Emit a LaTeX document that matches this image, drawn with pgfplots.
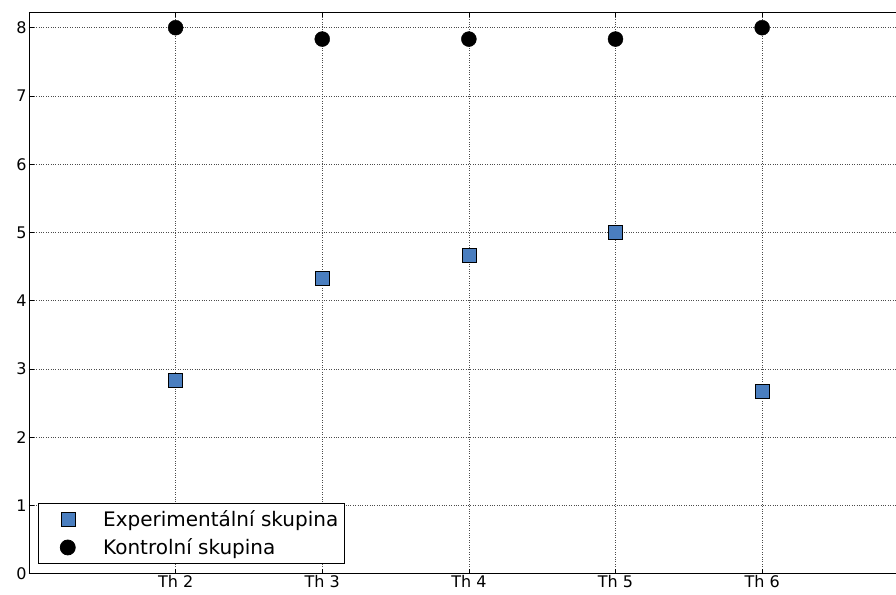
\documentclass[border=0pt]{standalone}
\usepackage{pgfplots}
\pgfplotsset{compat=1.18}
\usepackage{fontspec}
\setmainfont{DejaVu Sans}
\usetikzlibrary{calc}
\definecolor{expblue}{HTML}{4A7EBF}
\begin{document}
\begin{tikzpicture}
\begin{axis}[
  scale only axis,
  width=867pt, height=562pt,
  xmin=1, xmax=6.91, ymin=0, ymax=8.23,
  axis x line=box, axis y line=left,
  axis line style={-, black, line width=0.9pt},
  xtick={2,3,4,5,6},
  xticklabels={Th 2,Th 3,Th 4,Th 5,Th 6},
  ytick={0,1,2,3,4,5,6,7,8},
  tick align=inside,
  major tick length=5pt,
  tick style={black, line width=0.6pt},
  /pgf/number format/assume math mode=true,
  ticklabel style={font=\fontsize{16}{18}\selectfont},
  xticklabel style={yshift=2pt},
  yticklabel style={xshift=1pt},
  grid=major,
  grid style={black!70, dotted, line width=0.5pt},
  axis on top,
  clip=false,
  legend style={at={(0.0104,0.018)}, anchor=south west, draw=black, line width=0.8pt,
    font=\fontsize{20}{23}\selectfont, inner xsep=4pt, inner ysep=5pt,
    row sep=7pt, legend cell align=left},
  legend image code/.code={\path (0pt,0pt) (58pt,0pt);
    \path[#1] plot coordinates {(25pt,0pt)};},
]
\addplot[only marks, mark=square*, mark size=7pt, mark options={fill=expblue, draw=black, line width=0.4pt}]
  coordinates {(2,2.833) (3,4.333) (4,4.667) (5,5.0) (6,2.667)};
\addlegendentry{Experimentální skupina}
\addplot[only marks, mark=*, mark size=7.5pt, mark options={fill=black, draw=black}]
  coordinates {(2,8.0) (3,7.833) (4,7.833) (5,7.833) (6,8.0)};
\addlegendentry{Kontrolní skupina}
\end{axis}
\path ($(current axis.south west)+(-29pt,-21pt)$) rectangle ($(current axis.north east)+(0pt,12pt)$);
\end{tikzpicture}
\end{document}
